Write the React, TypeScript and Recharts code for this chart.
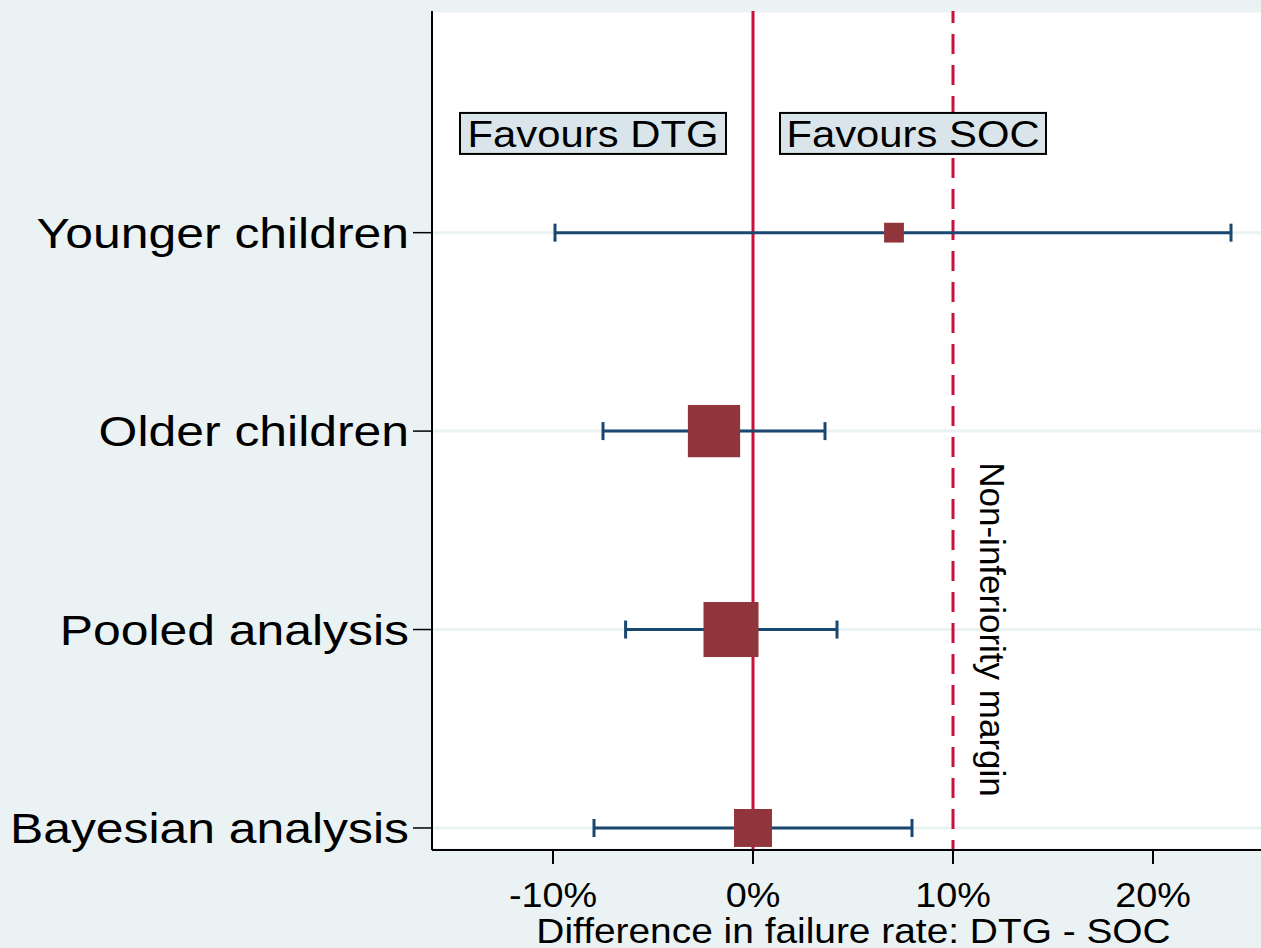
import React from 'react';
import { ComposedChart, Scatter, ErrorBar, XAxis, YAxis, CartesianGrid, ReferenceLine, ReferenceDot, Label } from 'recharts';

// rows listed bottom to top (y = 1..4)
const groups = ['Bayesian analysis', 'Pooled analysis', 'Older children', 'Younger children'];
const estimates = [0.0, -1.1, -1.95, 7.05];
const lowerCI = [-7.95, -6.37, -7.5, -9.9];
const upperCI = [7.95, 4.2, 3.6, 23.9];
const weights = [0.69, 1.0, 0.95, 0.36];

const xTicks = [-10, 0, 10, 20];
const nonInferiorityMargin = 10;
const favourX = [-8, 8];
const favourText = ['Favours DTG', 'Favours SOC'];

const FONT = '"Liberation Sans", Arial, Helvetica, sans-serif';
const RED = '#c8103a';
const NAVY = '#1a476f';
const MAROON = '#90353b';
const BG = '#eaf2f3';

const rows = groups.map((g, i) => ({
  name: g,
  y: i + 1,
  x: estimates[i],
  err: [estimates[i] - lowerCI[i], upperCI[i] - estimates[i]],
  w: weights[i],
}));

function Stretched({ x, y, sx, size, anchor, children }: any) {
  return (
    <g transform={`translate(${x},${y}) scale(${sx},1)`}>
      <text x={0} y={0} textAnchor={anchor} fontSize={size} fontFamily={FONT} fill="#000">
        {children}
      </text>
    </g>
  );
}

const YTick = ({ x, y, payload }: any) => (
  <Stretched x={x} y={y + 15} sx={1.16} size={43} anchor="end">
    {groups[payload.value - 1]}
  </Stretched>
);

const XTick = ({ x, y, payload }: any) => (
  <Stretched x={x} y={y + 41} sx={1.08} size={35} anchor="middle">
    {`${payload.value}%`}
  </Stretched>
);

const Square = (props: any) => {
  const { cx, cy, payload } = props;
  const s = payload.w * 55;
  return <rect x={cx - s / 2} y={cy - s / 2} width={s} height={s} fill={MAROON} />;
};

const FavourBox = (text: string) => (props: any) => {
  const { cx, cy } = props;
  const w = 266;
  const h = 41;
  return (
    <g>
      <rect x={cx - w / 2} y={cy - h / 2} width={w} height={h} fill="#d9e5ea" stroke="#000" strokeWidth={2} />
      <Stretched x={cx} y={cy + 13.5} sx={1.13} size={37} anchor="middle">
        {text}
      </Stretched>
    </g>
  );
};

const MarginText = (props: any) => {
  const { cx, cy } = props;
  return (
    <text
      transform={`translate(${cx},${cy}) rotate(90)`}
      x={0}
      y={0}
      dy="0.36em"
      textAnchor="middle"
      fontSize={35}
      fontFamily={FONT}
      fill="#000"
    >
      Non-inferiority margin
    </text>
  );
};

export default function App() {
  return (
    <div style={{ position: 'absolute', left: 0, top: 0, width: 1261, height: 948, background: BG, fontFamily: FONT }}>
      <ComposedChart width={1261} height={948} data={rows} margin={{ top: 11, right: 0, bottom: 0, left: 0 }}>
        <CartesianGrid vertical={false} stroke={BG} strokeWidth={3} fill="#ffffff" fillOpacity={1} />
        <XAxis
          type="number"
          dataKey="x"
          domain={[-16.05, 25.4]}
          ticks={xTicks}
          allowDataOverflow
          height={98}
          tickSize={14}
          tick={<XTick />}
          axisLine={{ stroke: '#000', strokeWidth: 2 }}
          tickLine={{ stroke: '#000', strokeWidth: 2 }}
        >
          <Label
            content={({ viewBox }: any) => (
              <Stretched x={viewBox.x + viewBox.width / 2 + 7} y={viewBox.y + 93} sx={1.08} size={36} anchor="middle">
                Difference in failure rate: DTG - SOC
              </Stretched>
            )}
          />
        </XAxis>
        <YAxis
          type="number"
          dataKey="y"
          domain={[0.889, 5.117]}
          ticks={[1, 2, 3, 4]}
          allowDataOverflow
          width={432}
          tickSize={19}
          tickMargin={4}
          tick={<YTick />}
          axisLine={{ stroke: '#000', strokeWidth: 2 }}
          tickLine={{ stroke: '#000', strokeWidth: 1.5 }}
        />
        <ReferenceLine x={0} stroke={RED} strokeWidth={3} />
        <ReferenceLine
          x={nonInferiorityMargin}
          stroke={RED}
          strokeWidth={3}
          strokeDasharray="20 11"
          strokeDashoffset={10}
        />
        <ReferenceDot x={12} y={2} r={0} shape={MarginText} />
        {favourX.map((fx, i) => (
          <ReferenceDot key={fx} x={fx} y={4.5} r={0} shape={FavourBox(favourText[i])} />
        ))}
        <Scatter data={rows} dataKey="x" shape={<Square />} isAnimationActive={false}>
          <ErrorBar dataKey="err" direction="x" width={9} strokeWidth={3} stroke={NAVY} isAnimationActive={false} />
        </Scatter>
      </ComposedChart>
    </div>
  );
}
